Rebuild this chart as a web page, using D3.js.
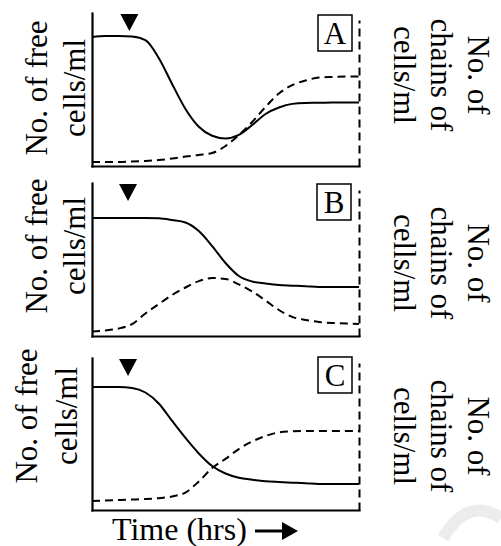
<!DOCTYPE html>
<html>
<head>
<meta charset="utf-8">
<script src="https://cdn.jsdelivr.net/npm/d3@7"></script>
<style>
  body { margin: 0; background: #fff; }
  svg { display: block; }
  text { font-family: "Liberation Serif", "Times New Roman", serif; fill: #000; }
</style>
</head>
<body>
<div id="chart"></div>
<script>
// time points (arbitrary units, 0 = start of experiment)
const time = [0, 5, 10, 15, 20, 25, 30, 35, 40, 45, 50, 55, 60, 65, 70, 75, 80, 85, 90, 95, 100];

// free cells (solid) and chains (dashed), % of axis height
const freeA   = [84.3, 85.0, 85.0, 84.6, 82.2, 70.6, 53.6, 37.3, 25.7, 19.8, 18.0, 20.3, 26.8, 34.0, 38.2, 40.6, 41.2, 41.3, 41.5, 41.5, 41.5];
const chainsA = [2.6, 2.6, 2.6, 2.9, 3.3, 3.9, 4.9, 6.2, 7.2, 8.5, 13.1, 20.3, 28.8, 38.6, 47.4, 52.9, 55.9, 57.8, 58.2, 58.5, 58.5];
const freeB   = [77.1, 77.1, 77.1, 77.1, 77.1, 76.9, 75.8, 74.2, 68.6, 58.8, 47.7, 39.2, 35.6, 34.3, 33.3, 32.9, 32.5, 32.0, 32.0, 32.0, 32.0];
const chainsB = [2.9, 3.6, 4.9, 7.8, 14.7, 20.9, 26.8, 31.7, 35.9, 37.9, 37.3, 33.7, 29.1, 23.2, 17.0, 12.5, 10.5, 9.2, 8.5, 8.2, 7.8];
const freeC   = [80.9, 80.9, 80.9, 80.3, 77.3, 70.1, 58.6, 47.4, 37.2, 28.9, 24.0, 21.2, 19.9, 18.9, 18.4, 18.0, 17.6, 17.1, 17.1, 17.1, 17.1];
const chainsC = [5.9, 6.3, 6.6, 6.9, 7.2, 7.8, 8.9, 11.5, 18.8, 27.6, 33.6, 40.1, 45.1, 48.7, 51.1, 51.8, 52.0, 52.0, 52.0, 52.0, 52.0];

const panelNames = ["A", "B", "C"];
const markerTime = [14, 13.5, 13.5];   // treatment added (▼)
const leftLabel = ["No. of free", "cells/ml"];
const rightLabel = ["No. of", "chains of", "cells/ml"];
const xLabel = "Time (hrs)";

const freeSeries = [freeA, freeB, freeC];
const chainSeries = [chainsA, chainsB, chainsC];

// layout of each panel in the page
const panels = [
    {top: 13,  bottom: 166, rTop: 20,  leftX: [47, 85], leftY: 88,  rightY: 75,  boxX: 318, boxY: 15},
    {top: 183, bottom: 336, rTop: 190, leftX: [47, 85], leftY: 246, rightY: 263, boxX: 317, boxY: 184},
    {top: 358, bottom: 510, rTop: 363, leftX: [37, 77], leftY: 416, rightY: 436, boxX: 318, boxY: 357}
];

const W = 501, H = 546;
const fontSize = 31;

const svg = d3.select("#chart").append("svg")
    .attr("width", W)
    .attr("height", H)
    .attr("viewBox", `0 0 ${W} ${H}`);

// faint watermark corner
svg.append("path")
    .attr("d", "M443,538 Q468,496 501,518")
    .attr("fill", "none")
    .attr("stroke", "#ececec")
    .attr("stroke-width", 12);

const x = d3.scaleLinear().domain([0, 100]).range([92, 359]);

panels.forEach((p, i) => {
    const g = svg.append("g");

    const y = d3.scaleLinear().domain([0, 100]).range([p.bottom, p.top]);
    const yRight = d3.scaleLinear().domain([0, 100]).range([p.bottom, p.rTop]);

    const line = d3.line()
        .x((d, j) => x(time[j]))
        .y(d => y(d))
        .curve(d3.curveMonotoneX);

    // chains of cells (dashed)
    g.append("path")
        .datum(chainSeries[i])
        .attr("fill", "none")
        .attr("stroke", "#000")
        .attr("stroke-width", 2)
        .attr("stroke-dasharray", "8,5")
        .attr("d", line);

    // free cells (solid)
    g.append("path")
        .datum(freeSeries[i])
        .attr("fill", "none")
        .attr("stroke", "#000")
        .attr("stroke-width", 2)
        .attr("d", line);

    // axes
    const left = g.append("g")
        .attr("transform", `translate(${x(0)},0)`)
        .call(d3.axisLeft(y).ticks(0).tickSizeOuter(0));
    const bottom = g.append("g")
        .attr("transform", `translate(0,${p.bottom})`)
        .call(d3.axisBottom(x).ticks(0).tickSizeOuter(0));
    const right = g.append("g")
        .attr("transform", `translate(${x(100)},0)`)
        .call(d3.axisRight(yRight).ticks(0).tickSizeOuter(0));

    [left, bottom].forEach(a => a.select(".domain")
        .attr("stroke", "#000")
        .attr("stroke-width", 2.2)
        .attr("stroke-linecap", "square"));
    right.select(".domain")
        .attr("stroke", "#000")
        .attr("stroke-width", 2)
        .attr("stroke-dasharray", "8,5");

    // marker triangle
    const mx = x(markerTime[i]);
    const ty = y(100) + 1;
    g.append("path")
        .attr("d", `M${mx - 9},${ty} L${mx + 9},${ty} L${mx},${ty + 17} Z`)
        .attr("fill", "#000");

    // panel letter in box
    g.append("rect")
        .attr("x", p.boxX)
        .attr("y", p.boxY)
        .attr("width", 34)
        .attr("height", 36)
        .attr("fill", "none")
        .attr("stroke", "#000")
        .attr("stroke-width", 1.5);
    g.append("text")
        .attr("x", p.boxX + 17)
        .attr("y", p.boxY + 29)
        .attr("text-anchor", "middle")
        .style("font-size", "31px")
        .text(panelNames[i]);

    // left axis label (reads upward)
    leftLabel.forEach((t, k) => {
        g.append("text")
            .attr("transform", `translate(${p.leftX[k]},${p.leftY}) rotate(-90)`)
            .attr("text-anchor", "middle")
            .style("font-size", fontSize + "px")
            .text(t);
    });

    // right axis label (reads downward)
    const rightX = [468, 431, 394];
    rightLabel.forEach((t, k) => {
        g.append("text")
            .attr("transform", `translate(${rightX[k]},${p.rightY}) rotate(90)`)
            .attr("text-anchor", "middle")
            .style("font-size", fontSize + "px")
            .text(t);
    });
});

// x label with arrow
svg.append("text")
    .attr("x", 112)
    .attr("y", 540)
    .style("font-size", "32px")
    .text(xLabel);

svg.append("line")
    .attr("x1", 255).attr("x2", 285)
    .attr("y1", 531).attr("y2", 531)
    .attr("stroke", "#000")
    .attr("stroke-width", 3);
svg.append("path")
    .attr("d", "M282,522 L298,531 L282,540 Z")
    .attr("fill", "#000");
</script>
</body>
</html>
